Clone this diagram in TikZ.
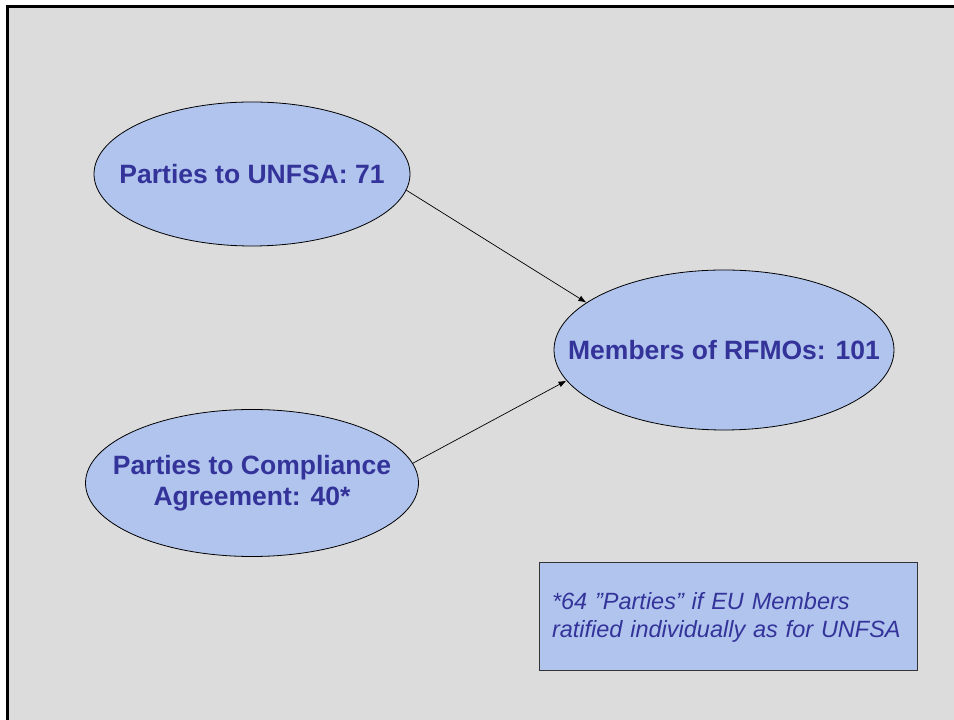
\documentclass[tikz,border=0pt]{standalone}
\usepackage{fontspec}
\setmainfont{Liberation Sans}
\usetikzlibrary{shapes.geometric,arrows.meta}
\definecolor{bg}{HTML}{DCDCDC}
\definecolor{ellfill}{HTML}{B0C4EE}
\definecolor{txtblue}{HTML}{333399}
\tikzset{
  ell/.style={ellipse, draw=black, line width=0.8pt, fill=ellfill, inner sep=0pt},
  lbl/.style={text=txtblue, font=\bfseries\fontsize{26.5}{31}\selectfont, align=center, inner sep=0pt},
  conn/.style={line width=0.7pt, -{Latex[length=8pt,width=6pt]}},
  notebox/.style={draw=black!80, line width=0.8pt, fill=ellfill, minimum width=378pt,
    minimum height=108pt, inner sep=0pt},
  notetext/.style={text=txtblue, text width=352pt, align=left, inner sep=0pt,
    font=\itshape\fontsize{23.5}{28}\selectfont}
}
\begin{document}
\begin{tikzpicture}[x=1pt,y=1pt]
\useasboundingbox (0,0) rectangle (954,720);
\fill[bg] (7,0) rectangle (954,713);
\draw[line width=3pt] (7,0) -- (7,713) -- (954,713);
\node[ell, minimum width=316pt, minimum height=144pt] (unfsa) at (252,546) {};
\node[lbl] (unfsaT) at (unfsa.center) {Parties to UNFSA: 71};
\node[ell, minimum width=333pt, minimum height=147pt] (comp) at (252,237) {};
\node[lbl] (compT) at (comp.center) {Parties to Compliance\\Agreement: 40*};
\node[ell, minimum width=340pt, minimum height=160pt] (rfmo) at (724,370) {};
\node[lbl] (rfmoT) at (rfmo.center) {Members of RFMOs: 101};
\node[notebox] (note) at (728,104) {};
\node[notetext] (noteT) at (728,103) {*64 ”Parties” if EU Members\\ratified individually as for UNFSA};
\draw[conn] (unfsa.-6) -- (rfmo.161);
\draw[conn] (comp.7) -- (rfmo.191);
\end{tikzpicture}
\end{document}
